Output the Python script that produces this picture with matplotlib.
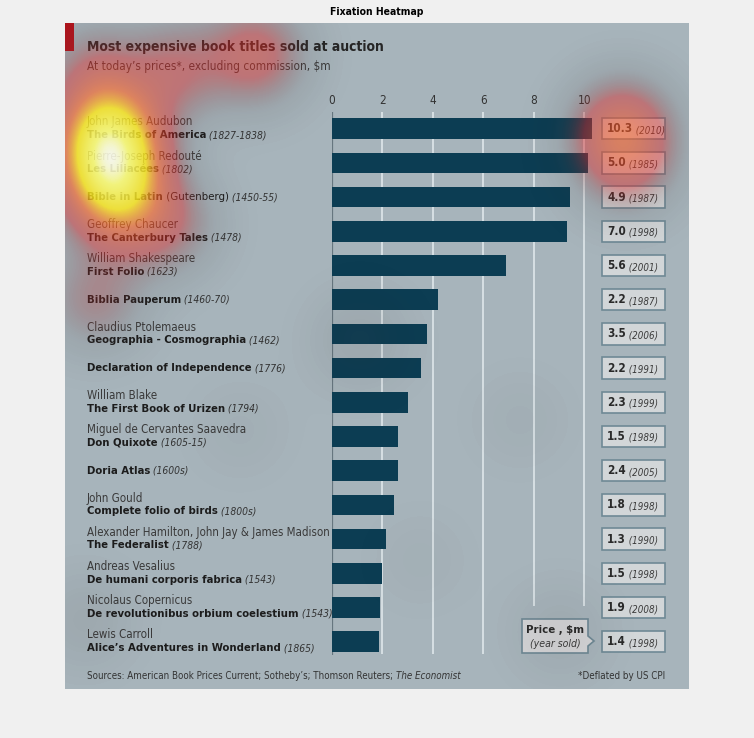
import numpy as np
import matplotlib
matplotlib.use('Agg')
import matplotlib.pyplot as plt
import matplotlib.transforms as mtransforms
from matplotlib.colors import LinearSegmentedColormap
from matplotlib.patches import Rectangle, Polygon

# book data (top to bottom)
authors = ["John James Audubon", "Pierre-Joseph Redouté", "", "Geoffrey Chaucer",
           "William Shakespeare", "", "Claudius Ptolemaeus", "", "William Blake",
           "Miguel de Cervantes Saavedra", "", "John Gould",
           "Alexander Hamilton, John Jay & James Madison", "Andreas Vesalius",
           "Nicolaus Copernicus", "Lewis Carroll"]
titles = ["The Birds of America", "Les Liliacées", "Bible in Latin", "The Canterbury Tales",
          "First Folio", "Biblia Pauperum", "Geographia - Cosmographia",
          "Declaration of Independence", "The First Book of Urizen", "Don Quixote",
          "Doria Atlas", "Complete folio of birds", "The Federalist",
          "De humani corporis fabrica", "De revolutionibus orbium coelestium",
          "Alice’s Adventures in Wonderland"]
notes = ["", "", " (Gutenberg)", "", "", "", "", "", "", "", "", "", "", "", "", ""]
made = ["(1827-1838)", "(1802)", "(1450-55)", "(1478)", "(1623)", "(1460-70)", "(1462)",
        "(1776)", "(1794)", "(1605-15)", "(1600s)", "(1800s)", "(1788)", "(1543)",
        "(1543)", "(1865)"]
price_today = [10.29, 10.16, 9.43, 9.33, 6.90, 4.22, 3.79, 3.52, 3.01, 2.64, 2.64,
               2.45, 2.16, 1.99, 1.93, 1.87]
price_sold = ["10.3", "5.0", "4.9", "7.0", "5.6", "2.2", "3.5", "2.2", "2.3", "1.5",
              "2.4", "1.8", "1.3", "1.5", "1.9", "1.4"]
year_sold = [2010, 1985, 1987, 1998, 2001, 1987, 2006, 1991, 1999, 1989, 2005, 1998,
             1990, 1998, 2008, 1998]

# eye-tracking fixations (image pixel coords) and durations, ms
fix_x = [108, 110, 113, 116, 165, 95, 95, 175, 255, 622, 626, 360, 85, 560, 240, 520, 420]
fix_y = [125, 152, 180, 208, 225, 300, 70, 70, 55, 130, 168, 340, 620, 632, 430, 420, 560]
fix_ms = [500, 600, 480, 300, 230, 200, 200, 250, 330, 430, 200, 80, 70, 60, 30, 30, 25]

W, H = 754, 738
plt.rcParams['font.family'] = ['DejaVu Sans']
plt.rcParams['font.stretch'] = 'condensed'

fig = plt.figure(figsize=(W / 100, H / 100), dpi=100, facecolor='#f0f0f0')


def box(x0, y0, x1, y1):
    # pixel box, origin top-left -> figure fraction
    return [x0 / W, 1 - y1 / H, (x1 - x0) / W, (y1 - y0) / H]


IMG = (65, 23, 689, 689)
bg = fig.add_axes(box(*IMG))
bg.set_xlim(IMG[0], IMG[2]); bg.set_ylim(IMG[3], IMG[1])
bg.set_facecolor('#a7b4bb')
bg.set_xticks([]); bg.set_yticks([])
for s in bg.spines.values():
    s.set_visible(False)

fig.text(377 / W, 1 - 12 / H, 'Fixation Heatmap', ha='center', va='center',
         fontsize=7.5, fontweight='bold', color='black')

# bar panel
X0, PX = 331.7, 25.26
ROW0, ROWH = 128.7, 34.2
n = len(price_today)
rows = np.arange(n)
right = 600
ax = fig.add_axes(box(X0, ROW0 - ROWH / 2, right, ROW0 + (n - 0.5) * ROWH))
ax.set_xlim(0, (right - X0) / PX)
ax.set_ylim(n - 0.5, -0.5)
ax.patch.set_visible(False)
for s in ax.spines.values():
    s.set_visible(False)
ax.vlines([2, 4, 6], -0.5, 15.35, color='#dbe3e7', lw=1.3, zorder=1)
ax.vlines([8, 10], -0.5, 13.95, color='#dbe3e7', lw=1.3, zorder=1)
ax.vlines([0], -0.5, 15.4, color='#66767f', lw=1.6, zorder=2)
ax.barh(rows, price_today, height=0.605, color='#0c3d53', zorder=3)
ax.xaxis.tick_top()
ax.set_xticks([0, 2, 4, 6, 8, 10])
ax.tick_params(axis='x', length=0, pad=3, labelsize=8.5, labelcolor='#333333')
ax.set_yticks([])

tr = mtransforms.blended_transform_factory(bg.transData, ax.transData)

for i in rows:
    ty = i
    if authors[i]:
        bg.text(87, i - 0.2, authors[i], transform=tr, va='center', fontsize=8.3,
                color='#3a3a3a')
        ty = i + 0.185
    t = bg.text(87, ty, titles[i], transform=tr, va='center', fontsize=8.1,
                fontweight='bold', color='#1c1c1c')
    if notes[i]:
        t = bg.annotate(notes[i], xy=(1, 0), xycoords=t, va='bottom', fontsize=8.2,
                        color='#1c1c1c')
    bg.annotate(' ' + made[i], xy=(1, 0), xycoords=t, va='bottom', fontsize=7.4,
                style='italic', color='#333333')
    # value box
    bg.add_patch(Rectangle((602, i - 0.31), 63, 0.62, transform=tr, fc='#d2d6d8',
                           ec='#6f8995', lw=1.2, zorder=2))
    v = bg.text(607, i, price_sold[i], transform=tr, va='center', fontsize=8.4,
                fontweight='bold', color='#2a2a2a', zorder=3)
    bg.annotate(f' ({year_sold[i]})', xy=(1, 0), xycoords=v, va='bottom', fontsize=7.0,
                style='italic', color='#3a3a3a', zorder=3)

# key box
key = Polygon([(522, 619), (588, 619), (588, 636), (594, 641), (588, 646), (588, 653),
               (522, 653)], closed=True, fc='#d5d6d8', ec='#6f8995', lw=1.2, zorder=2)
bg.add_patch(key)
bg.text(555, 630, 'Price , $m', ha='center', va='center', fontsize=8.2,
        fontweight='bold', color='#2a2a2a', zorder=3)
bg.text(555, 644, '(year sold)', ha='center', va='center', fontsize=7.6,
        style='italic', color='#3a3a3a', zorder=3)

# headline
bg.add_patch(Rectangle((65, 23), 9, 28, fc='#b5121b', ec='none'))
bg.text(87, 50.7, 'Most expensive book titles sold at auction', va='baseline',
        fontsize=10, fontweight='bold', color='#262626')
bg.text(87, 70, 'At today’s prices*, excluding commission, $m', va='baseline',
        fontsize=8.5, color='#3a3a3a')

src = bg.text(87, 676, 'Sources: American Book Prices Current; Sotheby’s; Thomson Reuters; ',
              va='center', fontsize=7.0, color='#333333')
bg.annotate('The Economist', xy=(1, 0), xycoords=src, va='bottom', fontsize=7.0,
            style='italic', color='#333333')
bg.text(665, 676, '*Deflated by US CPI', ha='right', va='center', fontsize=7.0,
        color='#333333')

# fixation heat overlay
ov = fig.add_axes(box(*IMG))
gx, gy = np.meshgrid(np.arange(IMG[0], IMG[2]) + 0.5, np.arange(IMG[1], IMG[3]) + 0.5)
heat = np.zeros_like(gx)
SIG = 34.0
for x, y, d in zip(fix_x, fix_y, fix_ms):
    heat += d * np.exp(-((gx - x) ** 2 + (gy - y) ** 2) / (2 * SIG ** 2))
heat /= heat.max()
cmap = LinearSegmentedColormap.from_list('fix', [
    (0.0, (0.0, 0.0, 0.0, 0.0)),
    (0.06, (0.30, 0.22, 0.22, 0.10)),
    (0.20, (0.85, 0.15, 0.15, 0.45)),
    (0.42, (1.0, 0.40, 0.15, 0.62)),
    (0.62, (1.0, 0.92, 0.10, 0.80)),
    (0.88, (1.0, 1.0, 0.45, 0.85)),
    (1.0, (1.0, 1.0, 0.92, 0.88))])
ov.imshow(heat, cmap=cmap, vmin=0, vmax=1, extent=(IMG[0], IMG[2], IMG[3], IMG[1]),
          interpolation='bilinear', aspect='auto')
ov.set_xlim(IMG[0], IMG[2]); ov.set_ylim(IMG[3], IMG[1])
ov.axis('off')

fig.savefig('out.png', dpi=100, facecolor=fig.get_facecolor())
